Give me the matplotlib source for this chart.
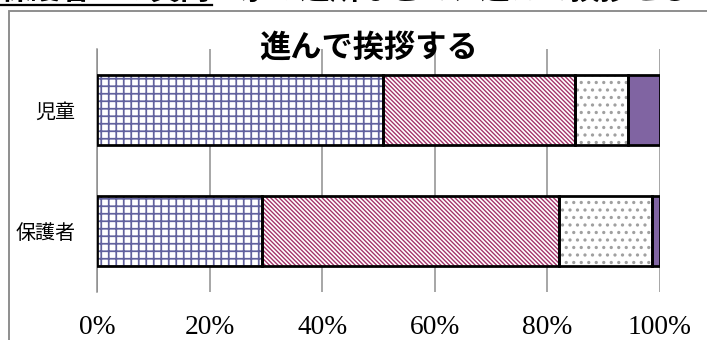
import matplotlib.pyplot as plt
from matplotlib.patches import Rectangle
from matplotlib.lines import Line2D

plt.rcParams['font.family'] = ['Noto Sans CJK JP', 'DejaVu Sans']
plt.rcParams['hatch.linewidth'] = 1.4

# answers per group, in percent
categories = ['児童', '保護者']
always = [50.8, 29.3]
mostly = [34.1, 52.8]
seldom = [9.4, 16.4]
never = [5.7, 1.5]
ticks = [0, 20, 40, 60, 80, 100]
tick_labels = ['0%', '20%', '40%', '60%', '80%', '100%']

BS = chr(92)  # backslash, for the diagonal hatch
series = [always, mostly, seldom, never]
hatches = ['++', BS * 7, '..', None]
hatch_widths = [1.4, 1.1, 1.4, 1.4]
hatch_colors = ['#62629e', '#a3336a', '#a0a0a0', '#8064a2']
faces = ['white', 'white', 'white', '#8064a2']

W, H, DPI = 707, 340, 90
fig = plt.figure(figsize=(W / DPI, H / DPI), dpi=DPI)

# heading line of the page, cut off at the top edge
fig.text(0, 1.0, '保護者への質問：家の近所などで、進んで挨拶をしていますか。',
         fontsize=24, fontweight='bold', va='baseline', ha='left')
fig.add_artist(Line2D([0, 212 / W], [1 - 4.5 / H, 1 - 4.5 / H], color='black', lw=1.8,
                      transform=fig.transFigure))

# chart frame
fig.add_artist(Rectangle((9 / W, -0.2), 1.2, (H - 11) / H + 0.2, transform=fig.transFigure,
                         fill=False, edgecolor='#8a8a8a', lw=1.5))

ax = fig.add_axes([97 / W, 1 - 292 / H, (660 - 97) / W, (292 - 49) / H])

y = list(range(len(categories)))
left = [0] * len(categories)
for vals, hatch, hw, hc, fc in zip(series, hatches, hatch_widths, hatch_colors, faces):
    with plt.rc_context({'hatch.linewidth': hw}):
        ax.barh(y, vals, left=left, height=0.58, color=fc, edgecolor=hc, hatch=hatch,
                lw=0, zorder=2)
    ax.barh(y, vals, left=left, height=0.58, fill=False, edgecolor='black', lw=2.2, zorder=3)
    left = [l + v for l, v in zip(left, vals)]

ax.set_xlim(0, 100)
ax.set_ylim(len(categories) - 0.5, -0.5)
ax.set_xticks(ticks)
ax.set_xticklabels(tick_labels, fontfamily='Liberation Serif', fontsize=22)
ax.set_yticks(y)
ax.set_yticklabels(categories, fontsize=16)
ax.tick_params(axis='x', length=0, pad=18)
ax.tick_params(axis='y', length=0, pad=17)
ax.grid(axis='x', color='#8c8c8c', lw=1.2)
ax.set_axisbelow(True)
for side in ['top', 'right', 'bottom']:
    ax.spines[side].set_visible(False)
ax.spines['left'].set_color('#8c8c8c')
ax.spines['left'].set_linewidth(1.2)

fig.text(369 / W, 1 - 47.5 / H, '進んで挨拶する', fontsize=25, fontweight='bold',
         ha='center', va='center')

fig.savefig('out.png', dpi=DPI)
